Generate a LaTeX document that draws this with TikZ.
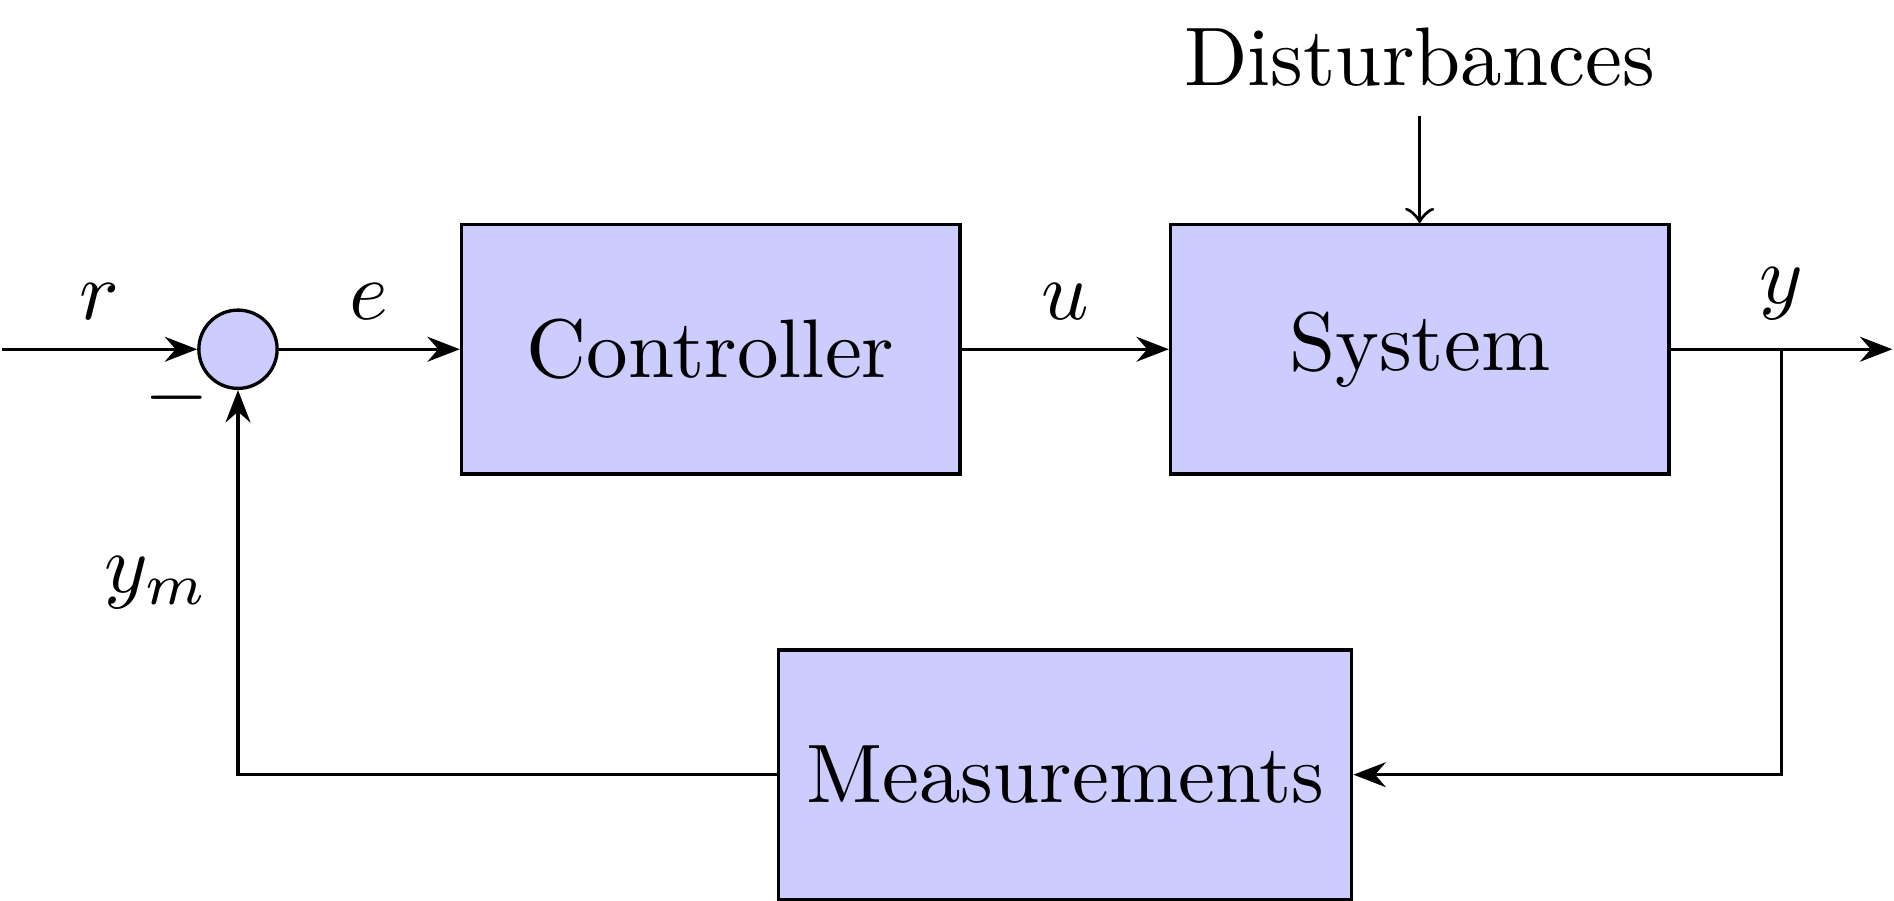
\documentclass[tikz,border=0pt]{standalone}
\usepackage{amsmath}
\usepackage{tikz}
\usetikzlibrary{arrows.meta,positioning}

\begin{document}
\begin{tikzpicture}[
   auto,>={Stealth[length=3.9pt,width=3pt,inset=1.3pt]},
   block/.style={draw,fill=blue!20,rectangle,minimum height=3em,minimum width=6em},
   sum/.style={draw,fill=blue!20,circle},
   pinstyle/.style={pin edge={to-,thin,black}},
   every node/.style={auto}]
\coordinate (input) at (0,0);
\node[sum] (sum) at (1,0) {};
\node[block] (controller) at (3,0) {Controller};
\node[block,pin={[pinstyle]above:Disturbances}] (system) at (6,0) {System};
\coordinate (output) at (8,0);
\draw[->] (controller) -- node[name=u] {$u$} (system);
\node[block,below=2cm of u.center,anchor=center] (measurements) {Measurements};
\draw[->] (input) -- node {$r$} (sum);
\draw[->] (sum) -- node {$e$} (controller);
\draw[->] (system) -- node[name=y] {$y$} (output);
\draw[->] (y) |- (measurements);
\draw[->] (measurements) -| node[pos=0.99] {$-$} node[near end] {$y_m$} (sum);
\end{tikzpicture}
\end{document}
